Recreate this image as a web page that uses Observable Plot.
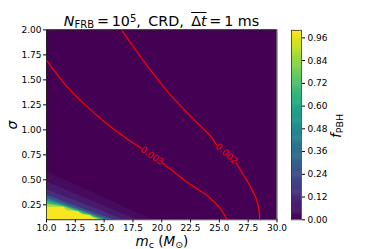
<!DOCTYPE html>
<html><head><meta charset="utf-8">
<script src="https://cdn.jsdelivr.net/npm/d3@7"></script>
<script src="https://cdn.jsdelivr.net/npm/@observablehq/plot@0.6"></script>
<style>
body{margin:0;background:#fff;}
#wrap{position:relative;width:374px;height:249px;overflow:hidden;font-family:"DejaVu Sans",sans-serif;color:#000;}
#wrap svg{position:absolute;left:0;top:0;}
.lbl{position:absolute;white-space:nowrap;line-height:1;}
.sb{font-size:0.7em;position:relative;top:0.22em;}
.sp{font-size:0.7em;position:relative;top:-0.45em;}
</style></head><body>
<div id="wrap"></div>
<script>
// ---- data ----
const mDomain = [10, 30];
const sigmaDomain = [0.1, 2.0];
const fDomain = [0, 1];
const xTicks = [10, 12.5, 15, 17.5, 20, 22.5, 25, 27.5, 30];
const yTicks = [0.25, 0.5, 0.75, 1.0, 1.25, 1.5, 1.75, 2.0];
const cbTicks = [0, 0.12, 0.24, 0.36, 0.48, 0.6, 0.72, 0.84, 0.96];

// filled f_PBH bands (upper boundary of each band, from sigma min)
const bandValues = [0.03, 0.07, 0.14, 0.27, 0.45, 0.65, 0.85, 0.99];
const bandM = [
  [10, 14.6, 19.2],
  [10, 13.9, 17.8],
  [10, 13.4, 16.7],
  [10, 12.9, 15.8],
  [10, 12.6, 15.3],
  [10, 11.7, 13.5, 15.0],
  [10, 11.6, 13.3, 14.75],
  [10, 11.5, 11.8, 12.8, 13.1, 13.8, 14.1, 14.5]
];
const bandSigma = [
  [0.58, 0.34, 0.1],
  [0.48, 0.29, 0.1],
  [0.40, 0.25, 0.1],
  [0.345, 0.22, 0.1],
  [0.315, 0.21, 0.1],
  [0.29, 0.235, 0.165, 0.1],
  [0.26, 0.228, 0.155, 0.1],
  [0.226, 0.226, 0.19, 0.182, 0.15, 0.145, 0.118, 0.1]
];

// red contour lines (NaN = gap for inline label)
const c003M = [10, 11.74, 13.47, 15.21, 16.94, 18.25, NaN, 20.1, 22.21, 23.94, 25.10, 25.68];
const c003S = [1.697, 1.437, 1.237, 1.064, 0.913, 0.815, NaN, 0.665, 0.476, 0.343, 0.210, 0.1];
const c002M = [16.51, 18.44, 20.47, 22.49, 24.23, 24.75, NaN, 26.45, 27.55, 28.2, 28.45, 28.5];
const c002S = [2.0, 1.687, 1.387, 1.137, 0.937, 0.85, NaN, 0.67, 0.46, 0.31, 0.19, 0.1];
const contourLabels = ["0.003", "0.002"];
const labelM = [19.15, 25.6];
const labelS = [0.74, 0.76];

// ---- build ----
const bandRows = bandValues.map((v, i) => bandM[i].map((m, j) => ({m, s: bandSigma[i][j], v})));
const c003 = c003M.map((m, i) => ({m, s: c003S[i]}));
const c002 = c002M.map((m, i) => ({m, s: c002S[i]}));
const labels = contourLabels.map((t, i) => ({t, m: labelM[i], s: labelS[i]}));
const colorOpts = {type: "linear", scheme: "viridis", domain: fDomain};
const font = {fontFamily: "DejaVu Sans", fontSize: "9px", background: "transparent", overflow: "visible"};

const main = Plot.plot({
  width: 374, height: 249,
  marginLeft: 46, marginRight: 97.5, marginTop: 29.4, marginBottom: 29.7,
  x: {domain: mDomain}, y: {domain: sigmaDomain},
  color: colorOpts,
  style: font,
  marks: [
    Plot.rect([0], {x1: mDomain[0], x2: mDomain[1], y1: sigmaDomain[0], y2: sigmaDomain[1], fill: d => d}),
    ...bandRows.map(rows => Plot.areaY(rows, {x: "m", y1: () => sigmaDomain[0], y2: "s", fill: "v", curve: "linear", clip: true})),
    Plot.line(c003, {x: "m", y: "s", stroke: "#ff0000", strokeWidth: 1.2, curve: "catmull-rom", clip: true}),
    Plot.line(c002, {x: "m", y: "s", stroke: "#ff0000", strokeWidth: 1.2, curve: "catmull-rom", clip: true}),
    Plot.text([labels[0]], {x: "m", y: "s", text: "t", fill: "#ff0000", rotate: 35, fontSize: 9}),
    Plot.text([labels[1]], {x: "m", y: "s", text: "t", fill: "#ff0000", rotate: 42, fontSize: 9}),
    Plot.axisX({ticks: xTicks, tickFormat: d3.format(".1f"), tickSize: 3, tickPadding: 2, label: null}),
    Plot.axisY({ticks: yTicks, tickFormat: d3.format(".2f"), tickSize: 3, tickPadding: 2, label: null}),
    Plot.frame({stroke: "#222", strokeWidth: 0.8})
  ]
});

const cbSteps = d3.range(0, 1, 0.005);
const cb = Plot.plot({
  width: 374, height: 249,
  marginLeft: 291, marginRight: 73, marginTop: 29.8, marginBottom: 29.7,
  x: {domain: [0, 1], axis: null}, y: {domain: fDomain},
  color: colorOpts,
  style: font,
  marks: [
    Plot.rect(cbSteps, {x1: 0, x2: 1, y1: d => d, y2: d => Math.min(1, d + 0.008), fill: d => d + 0.0025}),
    Plot.axisY({anchor: "right", ticks: cbTicks, tickFormat: d3.format(".2f"), tickSize: 3, tickPadding: 3, label: null}),
    Plot.frame({stroke: "#333", strokeWidth: 0.8})
  ]
});

const wrap = document.getElementById("wrap");
wrap.appendChild(main);
wrap.appendChild(cb);

function addLabel(html, css) {
  const d = document.createElement("div");
  d.className = "lbl";
  d.innerHTML = html;
  Object.assign(d.style, css);
  wrap.appendChild(d);
}
addLabel('<i>N</i><span class="sb">FRB</span>&#8201;=&#8201;10<span class="sp">5</span>,&#8201; CRD,&#8201; <span style="text-decoration:overline">Δ<i>t</i></span>&#8201;=&#8201;1 ms',
  {left: "161.5px", top: "14.3px", fontSize: "14.3px", transform: "translateX(-50%)"});
addLabel('<i>σ</i>', {left: "11.8px", top: "125px", fontSize: "14px", transform: "translate(-50%,-50%) rotate(-90deg)"});
addLabel('<i>m</i><span class="sb">c</span> (<i>M</i><span class="sb">⊙</span>)', {left: "162px", top: "234.5px", fontSize: "13.5px", transform: "translateX(-50%)"});
addLabel('<i>f</i><span class="sb">PBH</span>', {left: "336.5px", top: "126px", fontSize: "13.5px", transform: "translate(-50%,-50%) rotate(-90deg)"});
</script>
</body></html>
